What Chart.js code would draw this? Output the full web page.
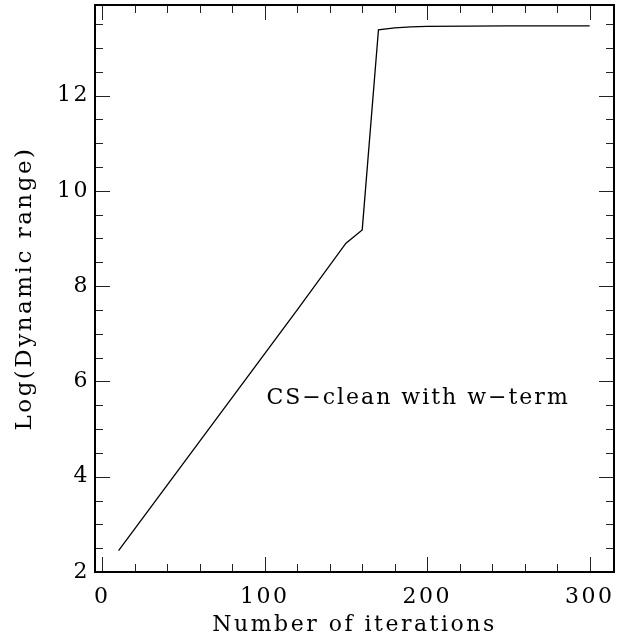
<!DOCTYPE html>
<html><head><meta charset="utf-8">
<script src="https://cdn.jsdelivr.net/npm/chart.js@4/dist/chart.umd.min.js"></script>
<style>html,body{margin:0;padding:0;background:#fff}#wrap{width:629px;height:639px}</style>
</head><body><div id="wrap"><canvas id="c" width="629" height="639"></canvas></div>
<script>
const iterations = [10, 120, 150, 160, 170, 180, 190, 200, 250, 300];
const logDynamicRange = [2.45, 7.5, 8.9, 9.18, 13.38, 13.42, 13.44, 13.45, 13.46, 13.46];
const xTickLabels = [0, 100, 200, 300];
const yTickLabels = [2, 4, 6, 8, 10, 12];
const xMinorStep = 20;
const yMinorStep = 0.5;
const annotationText = 'CS\u2212clean with w\u2212term';
const annotationPos = [101, 5.65];
const xTitle = 'Number of iterations';
const yTitle = 'Log(Dynamic range)';

const FONT = "'DejaVu Serif', 'Liberation Serif', serif";
const SPACING = '2.5px';

const spacingPlugin = {
  id: 'spacing',
  beforeDraw(chart) { chart.ctx.letterSpacing = SPACING; }
};

function drawLine(ctx, x1, y1, x2, y2) {
  ctx.beginPath(); ctx.moveTo(x1, y1); ctx.lineTo(x2, y2); ctx.stroke();
}

const framePlugin = {
  id: 'frameTicks',
  afterDraw(chart) {
    const {ctx, chartArea: {left, right, top, bottom}, scales: {x, y}} = chart;
    ctx.save();
    ctx.strokeStyle = '#222';
    ctx.lineWidth = 1;
    const nx = Math.floor((x.max - 0) / xMinorStep);
    for (let k = Math.ceil(x.min / xMinorStep); k <= nx; k++) {
      const v = k * xMinorStep;
      const px = Math.round(x.getPixelForValue(v)) + 0.5;
      const len = xTickLabels.includes(v) ? 15 : 8;
      drawLine(ctx, px, bottom, px, bottom - len);
      drawLine(ctx, px, top, px, top + len);
    }
    const ny = Math.floor((y.max - y.min) / yMinorStep + 1e-6);
    for (let k = 0; k <= ny; k++) {
      const v = Math.round((y.min + k * yMinorStep) * 1000) / 1000;
      const py = Math.round(y.getPixelForValue(v)) + 0.5;
      const len = yTickLabels.includes(v) ? 15 : 8;
      drawLine(ctx, left, py, left + len, py);
      drawLine(ctx, right, py, right - len, py);
    }
    ctx.strokeStyle = '#000';
    ctx.lineWidth = 2;
    ctx.strokeRect(left, top, right - left, bottom - top);
    ctx.restore();
  },
  afterDatasetsDraw(chart) {
    const {ctx, scales: {x, y}} = chart;
    ctx.save();
    ctx.letterSpacing = '2px';
    ctx.font = "22px " + FONT;
    ctx.fillStyle = '#000';
    ctx.textAlign = 'left';
    ctx.textBaseline = 'middle';
    ctx.fillText(annotationText, x.getPixelForValue(annotationPos[0]), y.getPixelForValue(annotationPos[1]));
    ctx.restore();
  }
};

new Chart(document.getElementById('c'), {
  type: 'scatter',
  data: {
    datasets: [{
      data: iterations.map((v, i) => ({x: v, y: logDynamicRange[i]})),
      showLine: true,
      borderColor: '#000',
      borderWidth: 1.3,
      pointRadius: 0,
      tension: 0,
      fill: false
    }]
  },
  options: {
    responsive: false,
    animation: false,
    events: [],
    layout: {padding: {top: 5, right: 15, left: 0, bottom: 0}},
    plugins: {legend: {display: false}, tooltip: {enabled: false}},
    scales: {
      x: {
        type: 'linear', min: -4.5, max: 315,
        grid: {display: false, drawTicks: false},
        border: {display: false},
        afterBuildTicks: s => { s.ticks = xTickLabels.map(v => ({value: v})); },
        afterFit: s => { s.height = 67; s.paddingLeft = 0; s.paddingRight = 0; },
        ticks: {color: '#000', font: {family: FONT, size: 22}, padding: 12, maxRotation: 0, autoSkip: false},
        title: {display: true, text: xTitle, color: '#000', font: {family: FONT, size: 22}, padding: {top: 0, bottom: 1}}
      },
      y: {
        type: 'linear', min: 2, max: 13.9,
        grid: {display: false, drawTicks: false},
        border: {display: false},
        afterBuildTicks: s => { s.ticks = yTickLabels.map(v => ({value: v})); },
        afterFit: s => { s.width = 95; s.paddingTop = 0; s.paddingBottom = 0; },
        ticks: {color: '#000', font: {family: FONT, size: 22}, padding: 5, autoSkip: false},
        title: {display: true, text: yTitle, color: '#000', font: {family: FONT, size: 23}, padding: {top: 11, bottom: 0}}
      }
    }
  },
  plugins: [spacingPlugin, framePlugin]
});
</script></body></html>
